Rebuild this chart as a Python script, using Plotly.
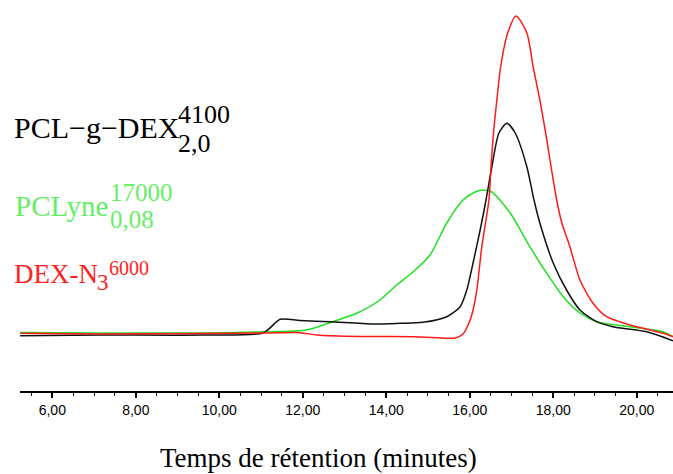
import plotly.graph_objects as go

# Retention time (minutes) and detector response (arbitrary units)
red_t = [5.23, 7.14, 9.54, 11.14, 11.93, 12.34, 13.37, 14.64, 15.45, 15.65, 15.84, 16.01, 16.08, 16.17,
         16.29, 16.46, 16.51, 16.57, 16.65, 16.74, 16.91, 17.11, 17.37, 17.52, 17.68, 17.82, 17.95, 18.07,
         18.20, 18.40, 18.64, 18.95, 19.28, 19.84, 20.63, 20.87]
red_v = [0.17, 0.10, 0.15, 0.20, 0.23, 0.00, -0.15, -0.17, -0.33, -0.30, 0.10, 1.50, 2.50, 4.50,
         8.83, 13.5, 16.8, 20.2, 23.5, 26.8, 30.2, 31.9, 30.2, 26.8, 23.5, 20.2, 16.8, 13.8,
         11.3, 8.83, 5.5, 3.2, 1.83, 1.0, 0.17, -0.17]

black_t = [5.23, 7.14, 9.54, 11.06, 11.46, 11.93, 12.65, 13.68, 14.33, 14.88, 15.45, 15.77, 15.93, 16.08,
           16.25, 16.39, 16.53, 16.70, 16.89, 17.09, 17.37, 17.54, 17.68, 18.00, 18.32, 18.64, 19.04,
           19.43, 20.24, 20.87]
black_v = [-0.07, 0.0, 0.0, 0.23, 1.57, 1.45, 1.33, 1.10, 1.17, 1.27, 1.83, 2.83, 4.5, 7.2,
           10.5, 13.5, 16.8, 20.2, 21.17, 20.2, 16.8, 13.5, 11.2, 7.2, 4.5, 2.5, 1.33,
           0.83, 0.33, -0.57]

green_t = [5.23, 7.14, 9.54, 11.29, 12.09, 12.72, 13.29, 13.85, 14.25, 14.64, 15.05, 15.45, 15.84, 16.13,
           16.32, 16.53, 16.97, 17.44, 17.84, 18.24, 18.64, 19.04, 19.84, 20.63, 20.87]
green_v = [0.25, 0.20, 0.20, 0.33, 0.50, 1.33, 2.17, 3.5, 5.0, 6.3, 8.0, 11.2, 13.5, 14.3,
           14.5, 14.3, 12.2, 8.83, 6.2, 3.83, 2.2, 1.33, 0.83, 0.33, -0.17]

tick_vals = [6, 8, 10, 12, 14, 16, 18, 20]
tick_text = ["6,00", "8,00", "10,00", "12,00", "14,00", "16,00", "18,00", "20,00"]

W, H = 673, 474
ML, MR, MT, MB = 20, 0, 0, 83
PW, PH = W - ML - MR, H - MT - MB

fig = go.Figure()
for t, v, c in [(green_t, green_v, "#22e022"), (black_t, black_v, "#111111"), (red_t, red_v, "#ff1a1a")]:
    fig.add_trace(go.Scatter(x=t, y=v, mode="lines",
                             line=dict(color=c, width=1.5, shape="spline", smoothing=0.7),
                             showlegend=False, hoverinfo="skip"))

SERIF = "Liberation Serif, Times New Roman, serif"


def ann(text, px, py, size, color, anchor="left"):
    # px, py given in page pixels
    return dict(text=text, xref="paper", yref="paper",
                x=(px - ML) / PW, y=(PH + MT - py) / PH,
                xanchor=anchor, yanchor="middle", showarrow=False, borderpad=0,
                font=dict(family=SERIF, size=size, color=color))


annotations = [
    ann("PCL\u2212g\u2212DEX", 13, 128, 30, "#000000"),
    ann("4100", 177, 115, 26, "#000000"),
    ann("2,0", 177, 143, 26, "#000000"),
    ann("PCLyne", 14, 206, 29, "#66ee66"),
    ann("17000", 109, 193, 25, "#66ee66"),
    ann("0,08", 109, 219, 25, "#66ee66"),
    ann("DEX-N", 13, 274, 27, "#ff2222"),
    ann("3", 96, 282, 23, "#ff2222"),
    ann("6000", 108, 268, 20, "#ff2222"),
    ann("Temps de rétention (minutes)", 318, 458, 27, "#000000", anchor="center"),
]

fig.update_layout(
    width=W, height=H,
    margin=dict(l=ML, r=MR, t=MT, b=MB),
    paper_bgcolor="white", plot_bgcolor="white",
    annotations=annotations,
    xaxis=dict(range=[5.226, 20.87], showgrid=False, zeroline=False,
               showline=True, linecolor="#000000", linewidth=2,
               tickvals=tick_vals, ticktext=tick_text,
               ticks="outside", ticklen=5, tickwidth=1.5, tickcolor="#000000",
               minor=dict(dtick=0.5, tick0=6, ticks="outside", ticklen=3, tickwidth=1.2, tickcolor="#000000"),
               tickfont=dict(family="Liberation Sans, Arial, sans-serif", size=14, color="#000000")),
    yaxis=dict(range=[-5.6, 33.5], visible=False),
)

fig.write_html(
    "out.html",
    config={"displayModeBar": False},
    post_script="document.body.style.margin='0';document.documentElement.style.overflow='hidden';",
)
